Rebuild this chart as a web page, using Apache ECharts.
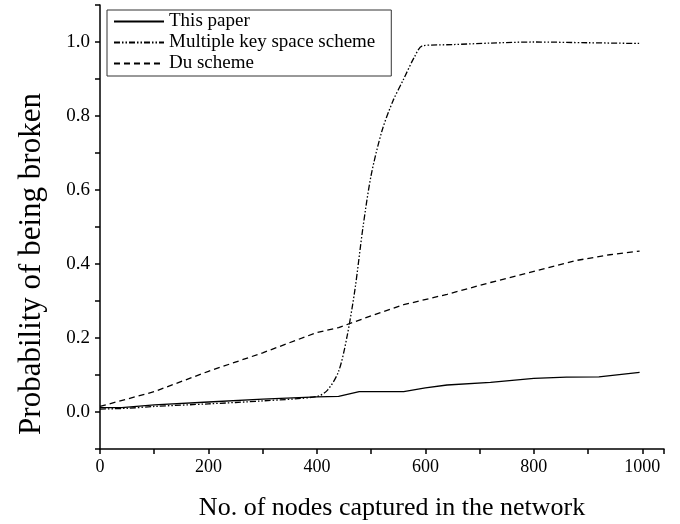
<!DOCTYPE html>
<html>
<head>
<meta charset="utf-8">
<script src="https://cdn.jsdelivr.net/npm/echarts@6/dist/echarts.min.js"></script>
<style>html,body{margin:0;padding:0;background:#fff}#c{width:680px;height:524px}</style>
</head>
<body>
<div id="c"></div>
<script>
// Data
const seriesNames = ['This paper', 'Multiple key space scheme', 'Du scheme'];
const thisPaper = [[0,0.012],[40,0.012],[100,0.019],[200,0.027],[300,0.035],[400,0.041],[440,0.042],[478,0.055],[560,0.055],[600,0.065],[640,0.073],[720,0.080],[800,0.091],[860,0.094],[920,0.095],[995,0.107]];
const multipleKey = [[0,0.008],[50,0.010],[100,0.015],[200,0.022],[300,0.030],[400,0.042],[420,0.060],[440,0.110],[455,0.200],[470,0.330],[485,0.500],[500,0.640],[520,0.760],[540,0.840],[560,0.900],[580,0.960],[595,0.990],[650,0.993],[720,0.997],[800,1.000],[900,0.998],[995,0.996]];
const duScheme = [[0,0.015],[100,0.055],[200,0.110],[300,0.160],[400,0.215],[440,0.228],[500,0.260],[560,0.290],[640,0.318],[720,0.350],[800,0.380],[880,0.410],[940,0.425],[995,0.435]];
const xTitle = 'No. of nodes captured in the network';
const yTitle = 'Probability of being broken';

const font = 'Liberation Serif';
const chart = echarts.init(document.getElementById('c'));
const lw = 1.3;
chart.setOption({
  animation: false,
  backgroundColor: '#fff',
  grid: {left: 100, right: 16, top: 5, bottom: 75},
  legend: {
    show: true,
    orient: 'vertical', left: 107, top: 10,
    borderColor: '#333', borderWidth: 1, padding: [2, 16, 3, 6],
    itemWidth: 50, itemHeight: 12, itemGap: 2,
    itemStyle: {color: 'rgba(0,0,0,0)', borderWidth: 0, opacity: 0},
    textStyle: {fontFamily: font, fontSize: 19, color: '#000'},
    data: seriesNames
  },
  graphic: [
    {type: 'text', x: 392, y: 508, z: 10,
      style: {text: xTitle, font: '26px "Liberation Serif"', fill: '#000', align: 'center', verticalAlign: 'middle'}},
    {type: 'text', x: 32, y: 264, rotation: Math.PI / 2, z: 10,
      style: {text: yTitle, font: '31px "Liberation Serif"', fill: '#000', align: 'center', verticalAlign: 'middle'}}
  ],
  xAxis: {
    type: 'value', min: 0, max: 1040, interval: 100,
    axisLine: {onZero: false, lineStyle: {color: '#000', width: 1.5}},
    axisTick: {inside: false, length: 5, lineStyle: {color: '#000', width: 1.5}},
    axisLabel: {fontFamily: font, fontSize: 18, color: '#000', margin: 9,
      formatter: v => (Math.round(v) % 200 === 0 ? String(Math.round(v)) : '')},
    splitLine: {show: false}
  },
  yAxis: {
    type: 'value', min: -0.1, max: 1.1, interval: 0.1,
    axisLine: {onZero: false, lineStyle: {color: '#000', width: 1.5}},
    axisTick: {inside: false, length: 5, lineStyle: {color: '#000', width: 1.5}},
    axisLabel: {fontFamily: font, fontSize: 19, color: '#000', margin: 10,
      formatter: v => { const k = Math.round(v * 10); return (k % 2 === 0 && k >= 0 && k <= 10) ? (k / 10).toFixed(1) : ''; }},
    splitLine: {show: false}
  },
  series: [
    {name: seriesNames[0], type: 'line', data: thisPaper, symbol: 'none', smooth: false,
      lineStyle: {color: '#000', width: lw, type: 'solid'}, itemStyle: {color: '#000'}},
    {name: seriesNames[1], type: 'line', data: multipleKey, symbol: 'none', smooth: 0.3,
      lineStyle: {color: '#000', width: lw, type: [6, 2, 1.5, 2, 1.5, 2]}, itemStyle: {color: '#000'}},
    {name: seriesNames[2], type: 'line', data: duScheme, symbol: 'none', smooth: false,
      lineStyle: {color: '#000', width: lw, type: [6, 4]}, itemStyle: {color: '#000'}}
  ]
});
</script>
</body>
</html>
